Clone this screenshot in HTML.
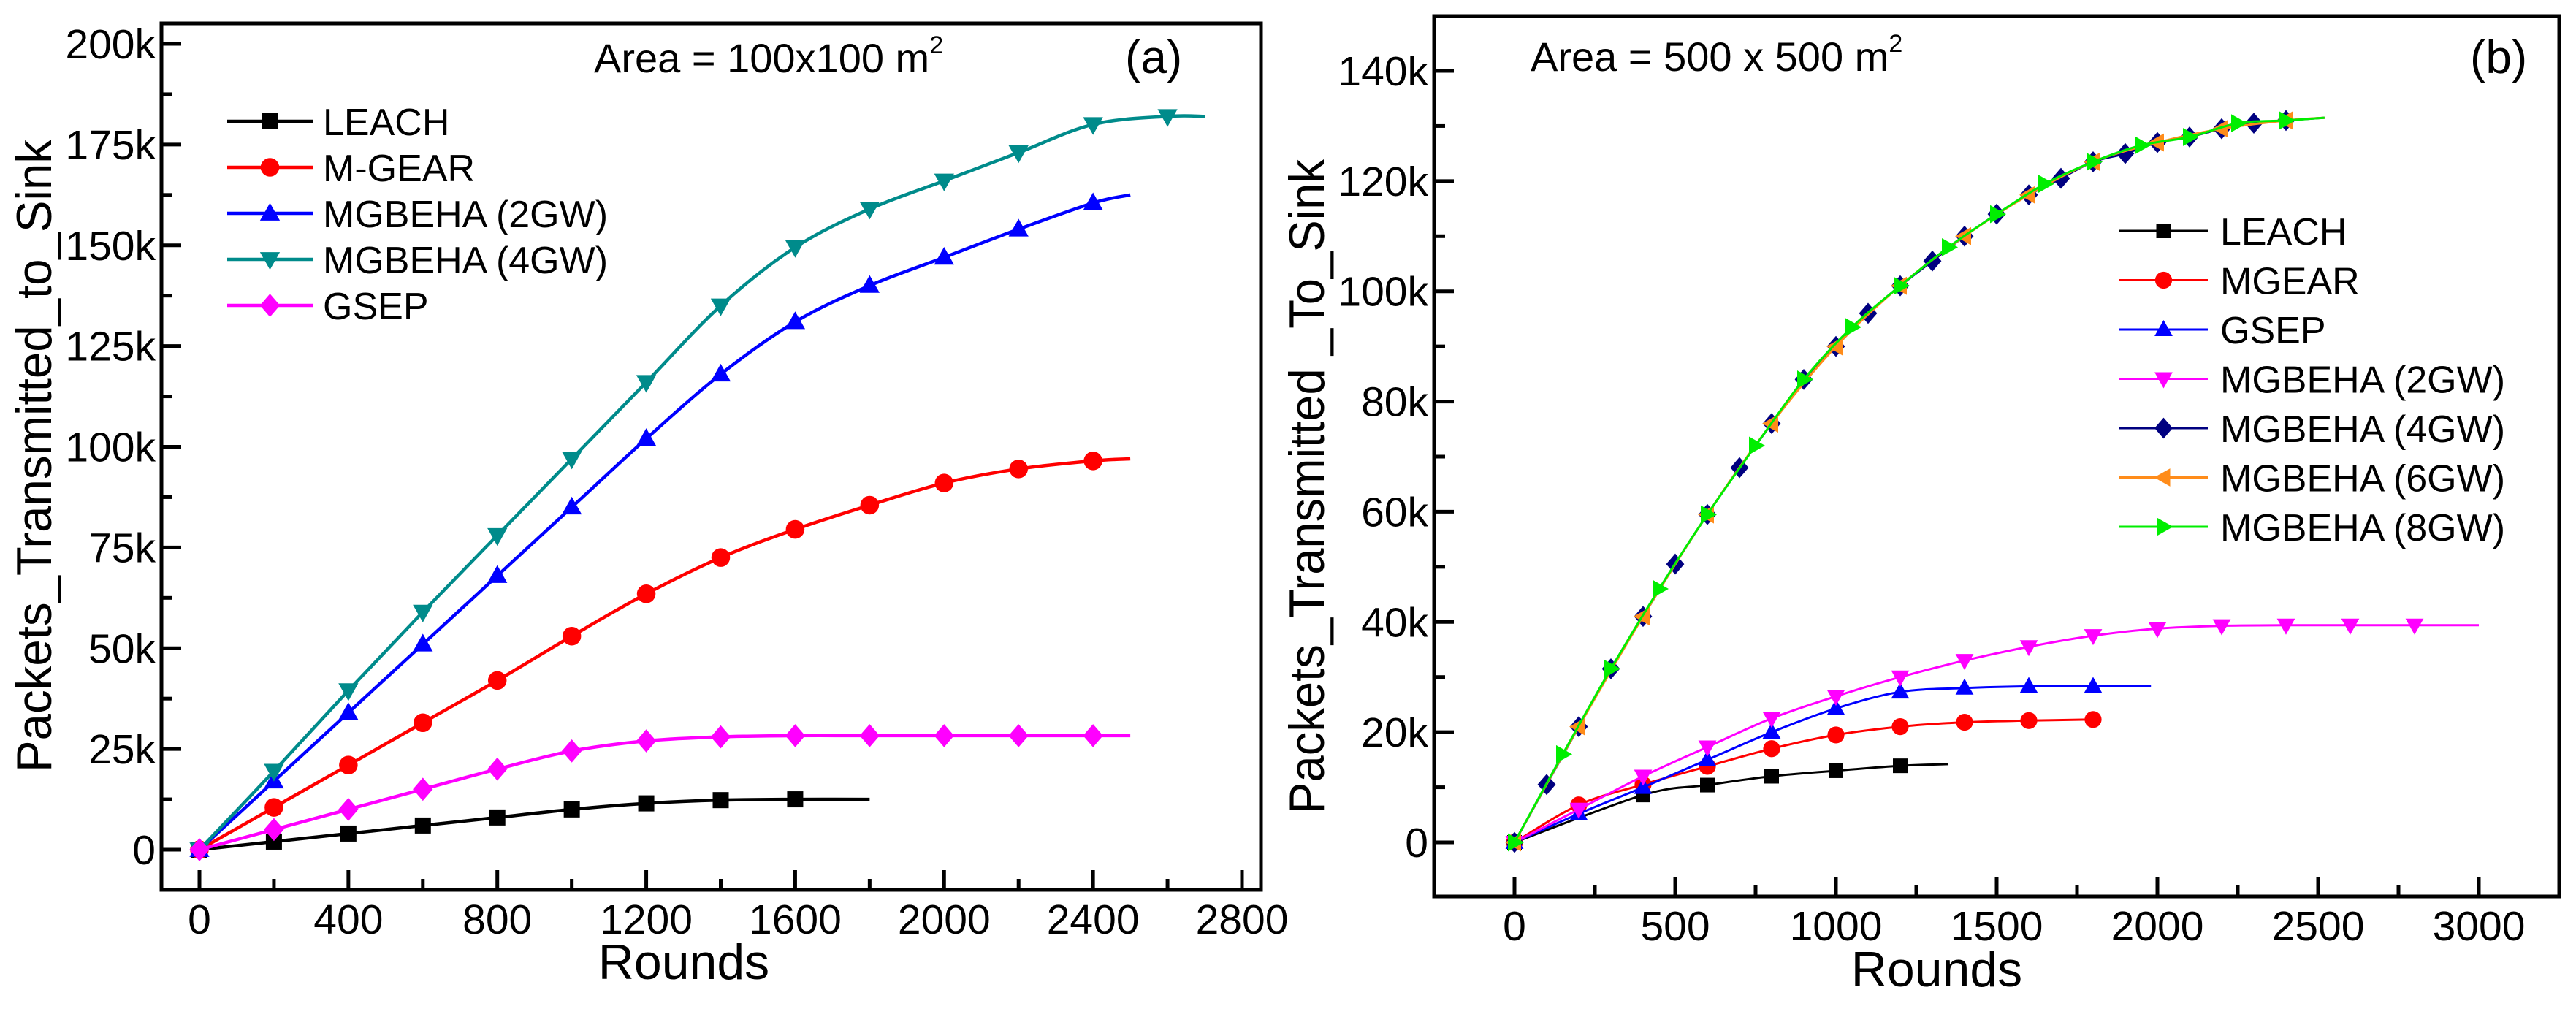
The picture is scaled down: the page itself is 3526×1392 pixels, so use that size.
<!DOCTYPE html>
<html><head><meta charset="utf-8">
<style>
html,body{margin:0;padding:0;background:#fff;}
svg{display:block;font-family:"Liberation Sans",Arial,sans-serif;}
</style></head>
<body>
<svg id="chart" width="3526" height="1392" viewBox="0 0 3526 1392" xmlns="http://www.w3.org/2000/svg"></svg>
<script>
// ---------- Panel (a) data ----------
const aLeachX = [0,200,400,600,800,1000,1200,1400,1600];
const aLeachY = [0,2000,4000,6000,8000,10000,11500,12300,12500];
const aLeachEnd = [1800,12500];
const aMgearX = [0,200,400,600,800,1000,1200,1400,1600,1800,2000,2200,2400];
const aMgearY = [0,10500,21000,31500,42000,53000,63500,72500,79500,85500,91000,94500,96500];
const aMgearEnd = [2500,97000];
const a2gwX = [0,200,400,600,800,1000,1200,1400,1600,1800,2000,2200,2400];
const a2gwY = [0,17000,34000,51000,68000,85000,102000,118000,131000,140000,147000,154000,160500];
const a2gwEnd = [2500,162500];
const a4gwX = [0,200,400,600,800,1000,1200,1400,1600,1800,2000,2200,2400,2600];
const a4gwY = [0,19500,39500,59000,78000,97000,116000,135000,149500,159000,166000,173000,180000,182000];
const a4gwEnd = [2700,182000];
const aGsepX = [0,200,400,600,800,1000,1200,1400,1600,1800,2000,2200,2400];
const aGsepY = [0,5000,10000,15000,20000,24500,27000,28000,28300,28300,28300,28300,28300];
const aGsepEnd = [2500,28300];
const aXTicks = [0,400,800,1200,1600,2000,2400,2800];
const aXTickLabels = ["0","400","800","1200","1600","2000","2400","2800"];
const aYTicks = [0,25000,50000,75000,100000,125000,150000,175000,200000];
const aYTickLabels = ["0","25k","50k","75k","100k","125k","150k","175k","200k"];

// ---------- Panel (b) data ----------
const bLeachX = [0,400,600,800,1000,1200];
const bLeachY = [0,8600,10400,12000,13000,13900];
const bLeachEnd = [1350,14200];
const bMgearX = [0,200,400,600,800,1000,1200,1400,1600,1800];
const bMgearY = [0,6800,10500,13800,17000,19500,21000,21800,22100,22300];
const bMgearEnd = [1800,22300];
const bGsepX = [0,200,400,600,800,1000,1200,1400,1600,1800];
const bGsepY = [0,5200,10000,15000,20000,24300,27300,28000,28300,28300];
const bGsepEnd = [1980,28300];
const b2gwX = [0,200,400,600,800,1000,1200,1400,1600,1800,2000,2200,2400,2600,2800];
const b2gwY = [0,6000,12000,17300,22500,26500,30000,33000,35500,37500,38800,39300,39400,39400,39400];
const b2gwEnd = [3000,39400];
const b4gwX = [0,100,200,300,400,500,600,700,800,900,1000,1100,1200,1300,1400,1500,1600,1700,1800,1900,2000,2100,2200,2300,2400];
const b4gwY = [0,10500,21000,31500,41000,50500,59500,68000,76000,84000,90000,96000,101000,105500,110000,114000,117500,120500,123500,125000,127000,128000,129500,130500,131000];
const b4gwEnd = [2520,131500];
const b6gwX = [0,200,400,600,800,1000,1200,1400,1600,1800,2000,2200,2400];
const b6gwY = [0,21000,41000,59500,76000,90000,101000,110000,117500,123500,127000,129500,131000];
const b6gwEnd = [2520,131500];
const b8gwX = [0,150,300,450,600,750,900,1050,1200,1350,1500,1650,1800,1950,2100,2250,2400];
const b8gwY = [0,16000,31500,46000,59500,72000,84000,93500,101000,108000,114000,119500,123500,126500,128000,130500,131000];
const b8gwEnd = [2520,131500];
const bXTicks = [0,500,1000,1500,2000,2500,3000];
const bXTickLabels = ["0","500","1000","1500","2000","2500","3000"];
const bYTicks = [0,20000,40000,60000,80000,100000,120000,140000];
const bYTickLabels = ["0","20k","40k","60k","80k","100k","120k","140k"];

const NS = "http://www.w3.org/2000/svg";
const svg = document.getElementById('chart');
function mk(tag, attrs, parent){
  const e = document.createElementNS(NS, tag);
  for (const k in attrs) e.setAttribute(k, attrs[k]);
  (parent||svg).appendChild(e);
  return e;
}
function smoothPath(pts){
  let d = `M${pts[0][0]},${pts[0][1]}`;
  for (let i=0;i<pts.length-1;i++){
    const p0 = pts[Math.max(0,i-1)], p1 = pts[i], p2 = pts[i+1], p3 = pts[Math.min(pts.length-1,i+2)];
    const c1x = p1[0]+(p2[0]-p0[0])/6, c1y = p1[1]+(p2[1]-p0[1])/6;
    const c2x = p2[0]-(p3[0]-p1[0])/6, c2y = p2[1]-(p3[1]-p1[1])/6;
    d += ` C${c1x},${c1y} ${c2x},${c2y} ${p2[0]},${p2[1]}`;
  }
  return d;
}
function marker(g, type, x, y, s, color){
  let e;
  if (type==='square') e = mk('rect',{x:x-s/2,y:y-s/2,width:s,height:s,fill:color},g);
  else if (type==='circle') e = mk('circle',{cx:x,cy:y,r:s*0.58,fill:color},g);
  else if (type==='up') e = mk('polygon',{points:`${x},${y-s*0.65} ${x-s*0.62},${y+s*0.45} ${x+s*0.62},${y+s*0.45}`,fill:color},g);
  else if (type==='down') e = mk('polygon',{points:`${x},${y+s*0.65} ${x-s*0.62},${y-s*0.45} ${x+s*0.62},${y-s*0.45}`,fill:color},g);
  else if (type==='diamond') e = mk('polygon',{points:`${x},${y-s*0.72} ${x+s*0.62},${y} ${x},${y+s*0.72} ${x-s*0.62},${y}`,fill:color},g);
  else if (type==='left') e = mk('polygon',{points:`${x-s*0.65},${y} ${x+s*0.45},${y-s*0.62} ${x+s*0.45},${y+s*0.62}`,fill:color},g);
  else if (type==='right') e = mk('polygon',{points:`${x+s*0.65},${y} ${x-s*0.45},${y-s*0.62} ${x-s*0.45},${y+s*0.62}`,fill:color},g);
  
  
  return e;
}

function panel(cfg){
  const g = mk('g',{});
  
  
  const sx = v => cfg.x0 + (v - cfg.xmin)/(cfg.xmax-cfg.xmin)*(cfg.x1-cfg.x0);
  const sy = v => cfg.y0 - (v - cfg.ymin)/(cfg.ymax-cfg.ymin)*(cfg.y0-cfg.y1);
  // series
  cfg.series.forEach(s=>{
    const sg = mk('g',{},g);
    
    
    const pts = s.xs.map((v,i)=>[sx(v), sy(s.ys[i])]);
    if (s.end[0] > s.xs[s.xs.length-1]) pts.push([sx(s.end[0]), sy(s.end[1])]);
    const p = mk('path',{d:smoothPath(pts),fill:'none',stroke:s.color,'stroke-width':cfg.lw,'stroke-linejoin':'round'},sg);
    
    
    s.xs.forEach((v,i)=> marker(sg, s.m, sx(v), sy(s.ys[i]), cfg.ms, s.color));
  });
  // frame
  const fr = mk('rect',{x:cfg.fl,y:cfg.ft,width:cfg.fr-cfg.fl,height:cfg.fb-cfg.ft,fill:'none',stroke:'#000','stroke-width':5},g);
  
  
  // x ticks
  cfg.xt.forEach((v,i)=>{
    const x = sx(v);
    mk('line',{x1:x,y1:cfg.fb,x2:x,y2:cfg.fb-27,stroke:'#000','stroke-width':5},g);
    const t = mk('text',{x:x,y:cfg.xly,'font-size':57,'text-anchor':'middle',fill:'#000'},g);
    t.textContent = cfg.xtl[i];
    
    
    if (i < cfg.xt.length-1){
      const xm = sx((v + cfg.xt[i+1])/2);
      mk('line',{x1:xm,y1:cfg.fb,x2:xm,y2:cfg.fb-15,stroke:'#000','stroke-width':5},g);
    }
  });
  cfg.yt.forEach((v,i)=>{
    const y = sy(v);
    mk('line',{x1:cfg.fl,y1:y,x2:cfg.fl+27,y2:y,stroke:'#000','stroke-width':5},g);
    const t = mk('text',{x:cfg.fl-8,y:y+20,'font-size':57,'text-anchor':'end',fill:'#000'},g);
    t.textContent = cfg.ytl[i];
    
    
    if (i < cfg.yt.length-1){
      const ym = sy((v + cfg.yt[i+1])/2);
      mk('line',{x1:cfg.fl,y1:ym,x2:cfg.fl+15,y2:ym,stroke:'#000','stroke-width':5},g);
    }
  });
  // axis titles
  const xtitle = mk('text',{x:cfg.xtx,y:cfg.xty,'font-size':68,'text-anchor':'middle',fill:'#000'},g);
  xtitle.textContent = 'Rounds';
  
  
  const ytitle = mk('text',{x:0,y:0,'font-size':68,'text-anchor':'middle',fill:'#000',transform:`translate(${cfg.ytx},${cfg.yty}) rotate(-90)`,textLength:cfg.ytl2,lengthAdjust:'spacingAndGlyphs'},g);
  ytitle.textContent = cfg.ytitle;
  
  
  // annotations
  const ar = mk('text',{x:cfg.areaX,y:cfg.areaY,'font-size':56,fill:'#000'},g);
  ar.innerHTML = cfg.areaText + '<tspan font-size="34" dy="-26">2</tspan>';
  
  
  const lb = mk('text',{x:cfg.labX,y:cfg.labY,'font-size':64,fill:'#000'},g);
  lb.textContent = cfg.lab;
  
  
  // legend
  const lg = mk('g',{},g);
  
  
  cfg.series.forEach((s,i)=>{
    const y = cfg.legY + i*cfg.legDy;
    const eg = mk('g',{},lg);
    
    
    mk('line',{x1:cfg.legX0,y1:y,x2:cfg.legX1,y2:y,stroke:s.color,'stroke-width':cfg.lw},eg);
    marker(eg, s.m, (cfg.legX0+cfg.legX1)/2, y, cfg.ms, s.color);
    const t = mk('text',{x:cfg.legTx,y:y+19,'font-size':cfg.legFs,fill:'#000'},eg);
    t.textContent = s.label;
  });
}

panel({
  name:'panel-a', xmin:0,xmax:2800,ymin:0,ymax:200000,
  x0:273,x1:1700,y0:1163,y1:60, fl:221,fr:1726,ft:32,fb:1218,
  lw:4.5, ms:22,
  xt:aXTicks, xtl:aXTickLabels, yt:aYTicks, ytl:aYTickLabels, xly:1278,
  xtx:936, xty:1340, ytx:70, yty:624, ytl2:866, ytitle:'Packets_Transmitted_to_Sink',
  areaX:813, areaY:99, areaText:'Area = 100x100 m', lab:'(a)', labX:1540, labY:100,
  legX0:311, legX1:428, legTx:442, legY:166, legDy:63, legFs:52,
  series:[
    {key:'leach',label:'LEACH',color:'#000000',m:'square',xs:aLeachX,ys:aLeachY,end:aLeachEnd},
    {key:'m-gear',label:'M-GEAR',color:'#ff0000',m:'circle',xs:aMgearX,ys:aMgearY,end:aMgearEnd},
    {key:'mgbeha-2gw',label:'MGBEHA (2GW)',color:'#0000ff',m:'up',xs:a2gwX,ys:a2gwY,end:a2gwEnd},
    {key:'mgbeha-4gw',label:'MGBEHA (4GW)',color:'#008b8b',m:'down',xs:a4gwX,ys:a4gwY,end:a4gwEnd},
    {key:'gsep',label:'GSEP',color:'#ff00ff',m:'diamond',xs:aGsepX,ys:aGsepY,end:aGsepEnd}
  ]
});

panel({
  name:'panel-b', xmin:0,xmax:3000,ymin:0,ymax:140000,
  x0:2073,x1:3393,y0:1153,y1:97, fl:1963,fr:3503,ft:22,fb:1227,
  lw:3, ms:20,
  xt:bXTicks, xtl:bXTickLabels, yt:bYTicks, ytl:bYTickLabels, xly:1287,
  xtx:2651, xty:1350, ytx:1812, yty:666, ytl2:896, ytitle:'Packets_Transmitted _To_Sink',
  areaX:2095, areaY:97, areaText:'Area = 500 x 500 m', lab:'(b)', labX:3381, labY:100,
  legX0:2901, legX1:3022, legTx:3039, legY:316, legDy:67.5, legFs:52,
  series:[
    {key:'leach',label:'LEACH',color:'#000000',m:'square',xs:bLeachX,ys:bLeachY,end:bLeachEnd},
    {key:'mgear',label:'MGEAR',color:'#ff0000',m:'circle',xs:bMgearX,ys:bMgearY,end:bMgearEnd},
    {key:'gsep',label:'GSEP',color:'#0000ff',m:'up',xs:bGsepX,ys:bGsepY,end:bGsepEnd},
    {key:'mgbeha-2gw',label:'MGBEHA (2GW)',color:'#ff00ff',m:'down',xs:b2gwX,ys:b2gwY,end:b2gwEnd},
    {key:'mgbeha-4gw',label:'MGBEHA (4GW)',color:'#000080',m:'diamond',xs:b4gwX,ys:b4gwY,end:b4gwEnd},
    {key:'mgbeha-6gw',label:'MGBEHA (6GW)',color:'#ff8c1a',m:'left',xs:b6gwX,ys:b6gwY,end:b6gwEnd},
    {key:'mgbeha-8gw',label:'MGBEHA (8GW)',color:'#00ee00',m:'right',xs:b8gwX,ys:b8gwY,end:b8gwEnd}
  ]
});
</script>
</body></html>
